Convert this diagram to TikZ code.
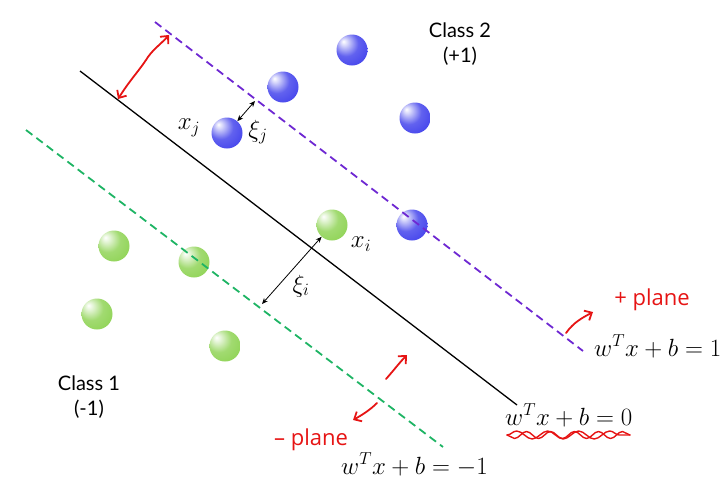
\documentclass[tikz,border=0pt]{standalone}
\usepackage{fontspec}
\newfontfamily\classfont{Lato}
\newfontfamily\handfont{Open Sans}
\usetikzlibrary{arrows.meta,decorations.pathmorphing}
\definecolor{ballblue}{RGB}{70,70,236}
\definecolor{ballgreen}{RGB}{145,212,88}
\definecolor{planepurple}{RGB}{110,40,210}
\definecolor{planegreen}{RGB}{30,180,100}
\definecolor{inkred}{RGB}{230,20,20}
\pgfdeclareradialshading{bluesphere}{\pgfpoint{-14bp}{14bp}}{%
  color(0bp)=(white); color(5bp)=(white!80!ballblue); color(20bp)=(ballblue!85!white);
  color(36bp)=(ballblue); color(70bp)=(ballblue!85!black)}
\pgfdeclareradialshading{greensphere}{\pgfpoint{-14bp}{14bp}}{%
  color(0bp)=(white); color(5bp)=(white!80!ballgreen); color(20bp)=(ballgreen!85!white);
  color(36bp)=(ballgreen); color(60bp)=(ballgreen!92!black); color(70bp)=(ballgreen!70!white)}
\begin{document}
\begin{tikzpicture}[x=1pt,y=-1pt,
  ballbase/.style={circle,inner sep=0pt,minimum size=31pt},
  blueball/.style={ballbase,shading=bluesphere},
  greenball/.style={ballbase,shading=greensphere},
  midline/.style={line width=1.3pt,black},
  posplane/.style={line width=1.8pt,planepurple,dash pattern=on 8pt off 5pt},
  negplane/.style={line width=1.8pt,planegreen,dash pattern=on 8pt off 5pt},
  slack/.style={line width=0.8pt,{Stealth[length=6pt,width=5pt]}-{Stealth[length=6pt,width=5pt]}},
  ink/.style={line width=1.8pt,inkred,line cap=round,line join=round},
  inktip/.style={ink,-{Straight Barb[length=6pt,width=11pt]}},
  eqlabel/.style={font=\fontsize{25}{28}\selectfont,inner sep=0pt},
  varlabel/.style={font=\fontsize{25}{28}\selectfont,inner sep=0pt},
  classlabel/.style={font=\classfont\fontsize{20}{25}\selectfont,align=center,inner sep=0pt},
  handlabel/.style={font=\handfont\fontsize{22}{24}\selectfont,text=inkred,inner sep=0pt}]
\useasboundingbox (0,0) rectangle (728,491);

% balls
\node[blueball] (b1) at (352,50) {};
\node[blueball] (b2) at (283,87) {};
\node[blueball] (b3) at (415,118) {};
\node[blueball] (bj) at (227,133) {};
\node[blueball] (b5) at (412,225) {};
\node[greenball] (bi) at (332,225) {};
\node[greenball] (g2) at (114,246) {};
\node[greenball] (g3) at (194,262) {};
\node[greenball] (g4) at (97,314) {};
\node[greenball] (g5) at (225,346) {};

% lines
\coordinate (h0a) at (80,71);
\coordinate (h0b) at (517,405);
\coordinate (hpa) at (155,22);
\coordinate (hpb) at (583,351);
\coordinate (hma) at (26,130);
\coordinate (hmb) at (443,447);
\draw[midline] (h0a) -- (h0b);
\draw[posplane] (hpa) -- (hpb);
\draw[negplane] (hma) -- (hmb);

% slack arrows
\coordinate (pj) at (255,101);
\coordinate (pi) at (262,304);
\draw[slack] (pj) -- (bj);
\draw[slack] (pi) -- (bi);

% labels
\node[varlabel] (lxj) at (189,128) {$x_j$};
\node[varlabel] (lsj) at (258,132) {$\xi_j$};
\node[varlabel] (lxi) at (361,244) {$x_i$};
\node[varlabel] (lsi) at (301,286) {$\xi_i$};

\node[classlabel] (c2) at (460,44) {Class 2\\(+1)};
\node[classlabel] (c1) at (89,397) {Class 1\\(-1)};

\node[eqlabel,anchor=base west] (e1) at (594,356) {$w^Tx+b=1$};
\node[eqlabel,anchor=base west] (e0) at (505,425) {$w^Tx+b=0$};
\node[eqlabel,anchor=base west] (em) at (341,474) {$w^Tx+b=-1$};

% red margin arrow
\coordinate (ma) at (169,35);
\coordinate (mb) at (118,99);
\draw[ink,{Straight Barb[length=6pt,width=11pt]}-{Straight Barb[length=6pt,width=11pt]}]
  (ma) .. controls (160,45) and (152,50) .. (146,60)
       .. controls (138,72) and (130,80) .. (mb);

% squiggle under the decision equation
\coordinate (sqa) at (507,435);
\coordinate (sqb) at (630,435);
\draw[ink,line width=1.4pt,decorate,decoration={snake,amplitude=4pt,segment length=31pt}] (sqa) -- (sqb);
\draw[ink,line width=1.4pt,decorate,decoration={snake,amplitude=3.5pt,segment length=24pt,mirror}] (sqa) -- (sqb);

% plus plane
\node[handlabel] (pp) at (652,300) {+ plane};
\coordinate (ppa) at (566,333);
\coordinate (ppb) at (593,312);
\draw[inktip] (ppa) .. controls (574,322) and (582,318) .. (ppb);

% minus plane
\node[handlabel] (mp) at (311,440) {– plane};
\coordinate (mpa) at (377,403);
\coordinate (mpb) at (353,420);
\draw[inktip] (mpa) .. controls (370,410) and (362,415) .. (mpb);
\coordinate (upa) at (386,379);
\coordinate (upb) at (407,355);
\draw[inktip] (upa) .. controls (394,370) and (400,362) .. (upb);
\end{tikzpicture}
\end{document}
